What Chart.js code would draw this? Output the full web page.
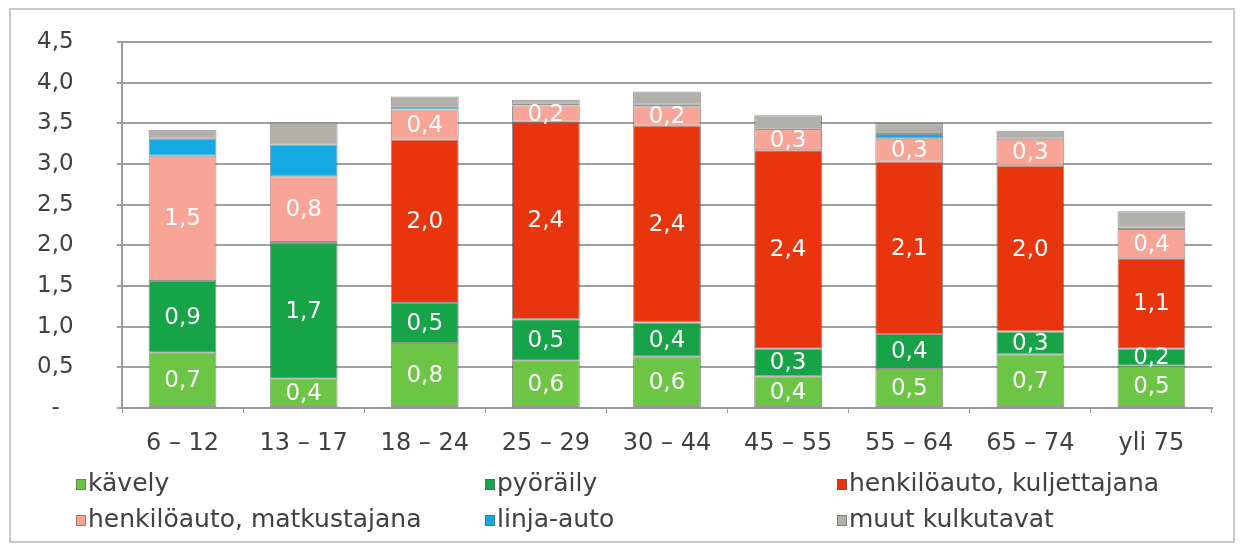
<!DOCTYPE html>
<html>
<head>
<meta charset="utf-8">
<script src="https://cdn.jsdelivr.net/npm/chart.js@4"></script>
<style>
  body { margin: 0; background: #fff; }
  #wrap { position: relative; width: 1241px; height: 549px; }
  #frame { position: absolute; left: 9px; top: 8px; width: 1222px; height: 531px; border: 2px solid #c8c8c8; pointer-events: none; }
</style>
</head>
<body>
<div id="wrap">
  <canvas id="chart" width="1241" height="549"></canvas>
  <div id="frame"></div>
</div>
<script>
// age groups
const categories = ['6 – 12', '13 – 17', '18 – 24', '25 – 29', '30 – 44', '45 – 55', '55 – 64', '65 – 74', 'yli 75'];

// trips per day by mode
const kavely      = [0.68, 0.36, 0.80, 0.58, 0.63, 0.39, 0.48, 0.66, 0.52];
const pyoraily    = [0.88, 1.67, 0.49, 0.51, 0.42, 0.34, 0.43, 0.28, 0.21];
const kuljettaja  = [0.00, 0.01, 2.01, 2.43, 2.42, 2.44, 2.12, 2.04, 1.11];
const matkustaja  = [1.54, 0.81, 0.37, 0.20, 0.24, 0.26, 0.28, 0.33, 0.36];
const linjaAuto   = [0.21, 0.39, 0.04, 0.02, 0.02, 0.01, 0.06, 0.02, 0.02];
const muut        = [0.11, 0.27, 0.12, 0.05, 0.16, 0.16, 0.13, 0.08, 0.20];

const seriesNames = ['kävely', 'pyöräily', 'henkilöauto, kuljettajana', 'henkilöauto, matkustajana', 'linja-auto', 'muut kulkutavat'];
const seriesColors = ['#6dc545', '#17a348', '#e8350d', '#f8a496', '#15a9e4', '#b2b0aa'];
const yTicks = [0, 0.5, 1, 1.5, 2, 2.5, 3, 3.5, 4, 4.5];

const FONT = "'DejaVu Sans', Verdana, sans-serif";
Chart.defaults.font.family = FONT;
Chart.defaults.color = '#404040';

function fmt(v) {
  return v.toFixed(1).replace('.', ',');
}

// white value labels inside the lower four segments
const valueLabels = {
  id: 'valueLabels',
  afterDatasetsDraw(chart) {
    const ctx = chart.ctx;
    ctx.save();
    ctx.font = '23px ' + FONT;
    ctx.fillStyle = '#ffffff';
    ctx.textAlign = 'center';
    ctx.textBaseline = 'middle';
    for (let d = 0; d < 4; d++) {
      const meta = chart.getDatasetMeta(d);
      meta.data.forEach((bar, i) => {
        const v = chart.data.datasets[d].data[i];
        if (v < 0.15) return;
        ctx.fillText(fmt(v), bar.x, (bar.y + bar.base) / 2 + 1);
      });
    }
    ctx.restore();
  }
};

// legend in three fixed columns, two rows
const columnLegend = {
  id: 'columnLegend',
  afterDraw(chart) {
    const ctx = chart.ctx;
    const colX = [76, 485, 837];
    const rowY = [484, 520];
    ctx.save();
    ctx.font = '25px ' + FONT;
    ctx.textBaseline = 'middle';
    chart.data.datasets.forEach((ds, i) => {
      const x = colX[i % 3];
      const y = rowY[Math.floor(i / 3)];
      ctx.fillStyle = ds.backgroundColor;
      ctx.fillRect(x, y - 5, 10, 11);
      ctx.strokeStyle = 'rgba(90,90,90,0.6)';
      ctx.lineWidth = 1;
      ctx.strokeRect(x + 0.5, y - 4.5, 9, 10);
      ctx.fillStyle = '#404040';
      ctx.fillText(ds.label, x + 12, y);
    });
    ctx.restore();
  }
};

const allSeries = [kavely, pyoraily, kuljettaja, matkustaja, linjaAuto, muut];

new Chart(document.getElementById('chart'), {
  type: 'bar',
  data: {
    labels: categories,
    datasets: allSeries.map((vals, i) => ({
      label: seriesNames[i],
      data: vals,
      backgroundColor: seriesColors[i],
      borderColor: 'rgba(60,60,60,0.55)',
      borderWidth: 1,
      borderSkipped: false,
      categoryPercentage: 1,
      barPercentage: 0.56
    }))
  },
  options: {
    responsive: false,
    animation: false,
    layout: { padding: { top: 42, right: 29, left: 37, bottom: 0 } },
    plugins: {
      legend: { display: false },
      tooltip: { enabled: false }
    },
    scales: {
      x: {
        stacked: true,
        grid: { drawOnChartArea: false, color: '#999', tickLength: 5, offset: true },
        border: { color: '#999', width: 2 },
        ticks: { font: { size: 24 }, color: '#404040', padding: 16 },
        afterFit(scale) { scale.height = 141; }
      },
      y: {
        stacked: true,
        min: 0,
        max: 4.5,
        afterBuildTicks(scale) { scale.ticks = yTicks.map(v => ({ value: v })); },
        grid: { color: '#a0a0a0', lineWidth: 2, tickLength: 5 },
        border: { color: '#999', width: 2 },
        ticks: {
          font: { size: 23 },
          color: '#404040',
          padding: 0,
          crossAlign: 'far',
          callback: v => v === 0 ? '  -' : fmt(v)
        },
        afterFit(scale) { scale.width = 85; }
      }
    }
  },
  plugins: [valueLabels, columnLegend]
});
</script>
</body>
</html>
